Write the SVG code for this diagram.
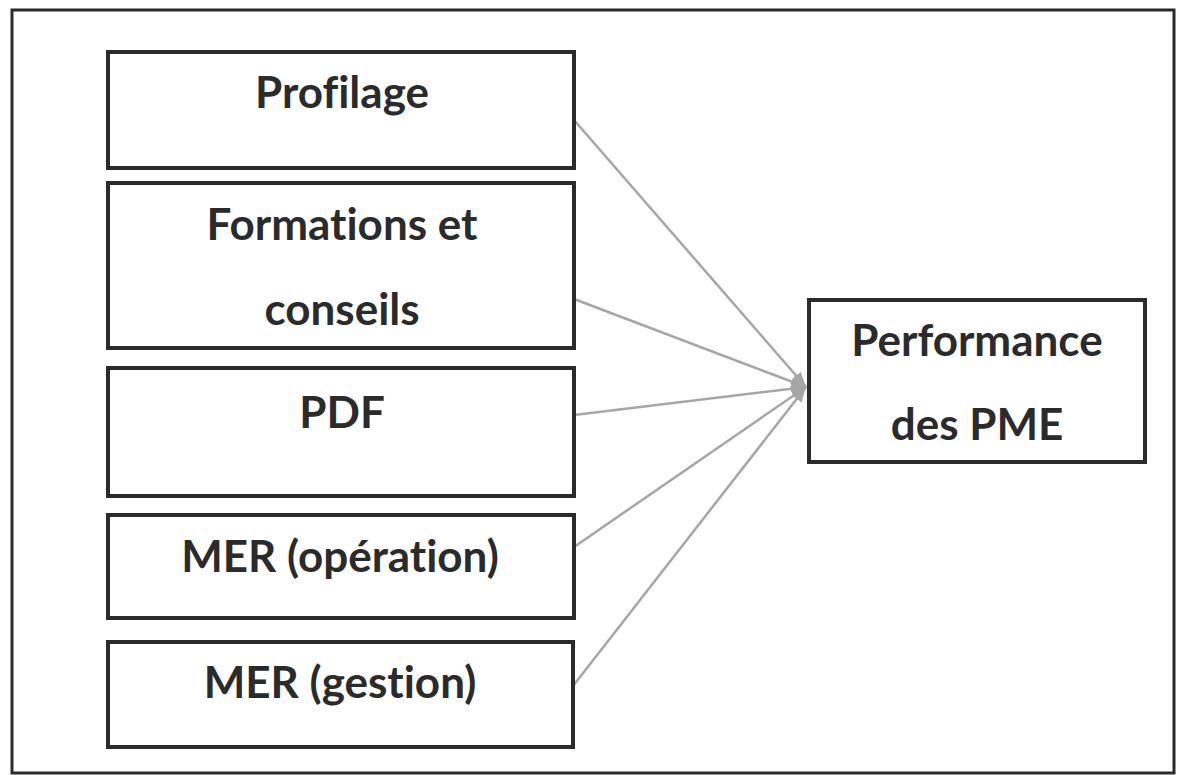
<svg xmlns="http://www.w3.org/2000/svg" width="1178" height="775" viewBox="0 0 1178 775">
  <style>
    .box { fill: #ffffff; stroke: #2b2b2b; stroke-width: 4; }
    .frame { fill: #ffffff; stroke: #2b2b2b; stroke-width: 3; }
    .lbl { font-family: Lato, "Open Sans", "Liberation Sans", sans-serif; font-weight: bold; font-size: 44px; fill: #2b2b2b; text-anchor: middle; font-variant-ligatures: none; }
    .conn { stroke: #a6a6a6; stroke-width: 2.5; fill: none; marker-end: url(#ah); }
  </style>
  <defs>
    <marker id="ah" markerWidth="16" markerHeight="14" refX="15" refY="7" orient="auto" markerUnits="userSpaceOnUse">
      <path d="M0,1 L15,7 L0,13 Z" fill="#a6a6a6"/>
    </marker>
  </defs>
  <rect class="frame" x="12" y="10" width="1162" height="763"/>
  <g id="connectors">
    <line class="conn" x1="574" y1="120" x2="806" y2="387"/>
    <line class="conn" x1="574" y1="299" x2="806" y2="387"/>
    <line class="conn" x1="574" y1="415" x2="806" y2="387"/>
    <line class="conn" x1="574" y1="547" x2="806" y2="387"/>
    <line class="conn" x1="573" y1="686" x2="806" y2="387"/>
  </g>
  <g id="n-profilage">
    <rect class="box" x="108" y="52" width="466" height="116"/>
    <text class="lbl" x="342" y="108">Profilage</text>
  </g>
  <g id="n-formations">
    <rect class="box" x="108" y="183" width="466" height="165"/>
    <text class="lbl" x="342" y="240">Formations et</text>
    <text class="lbl" x="342" y="325">conseils</text>
  </g>
  <g id="n-pdf">
    <rect class="box" x="108" y="368" width="466" height="128"/>
    <text class="lbl" x="342" y="428">PDF</text>
  </g>
  <g id="n-mer-operation">
    <rect class="box" x="108" y="515" width="466" height="103"/>
    <text class="lbl" x="340" y="572">MER (opération)</text>
  </g>
  <g id="n-mer-gestion">
    <rect class="box" x="108" y="642" width="465" height="105"/>
    <text class="lbl" x="340" y="698">MER (gestion)</text>
  </g>
  <g id="n-performance">
    <rect class="box" x="809" y="300" width="336" height="162"/>
    <text class="lbl" x="977" y="356">Performance</text>
    <text class="lbl" x="977" y="440">des PME</text>
  </g>
</svg>
